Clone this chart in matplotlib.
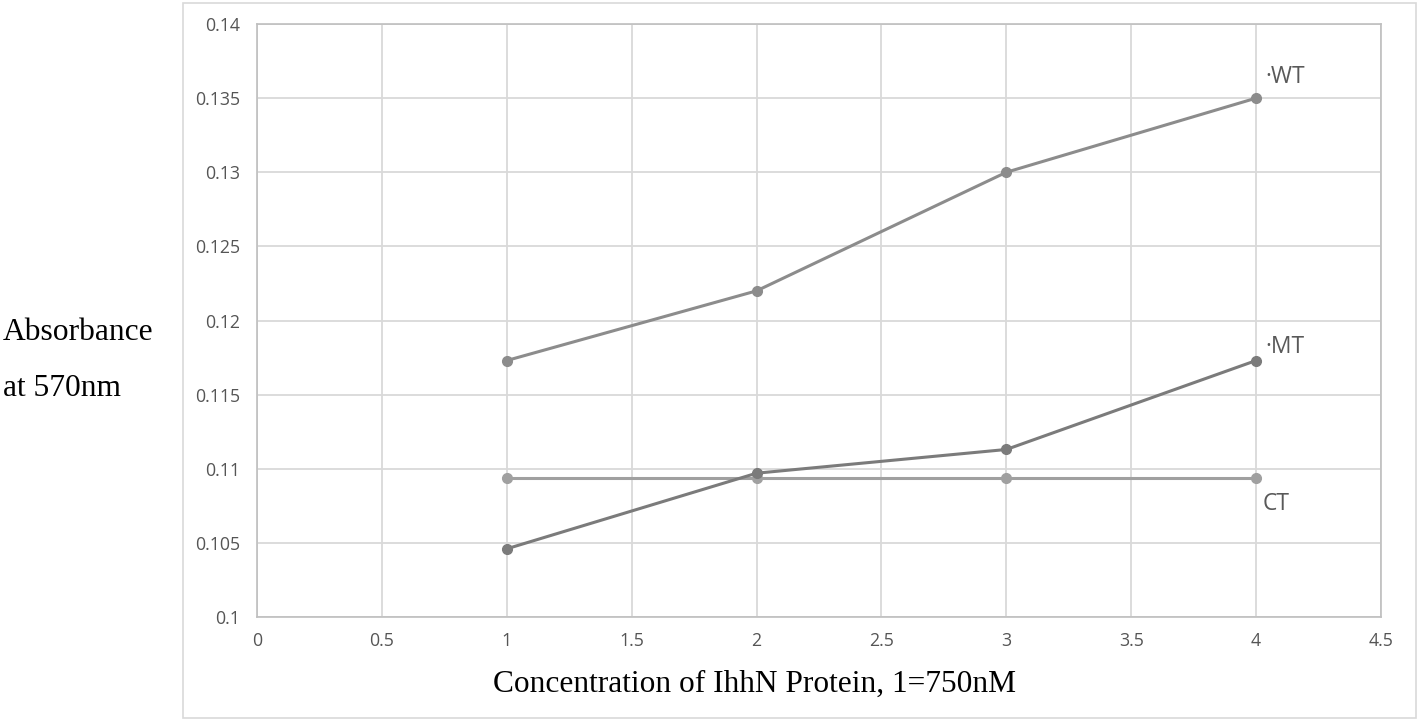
import matplotlib
matplotlib.use("Agg")
import matplotlib.pyplot as plt
from matplotlib.patches import Rectangle

x = [1, 2, 3, 4]
wt = [0.1173, 0.1220, 0.1300, 0.1350]
mt = [0.1046, 0.1097, 0.1113, 0.1173]
ct = [0.1094, 0.1094, 0.1094, 0.1094]
series_labels = ["·WT", "·MT", "CT"]
xticks = [0, 0.5, 1, 1.5, 2, 2.5, 3, 3.5, 4, 4.5]
yticks = [0.1, 0.105, 0.11, 0.115, 0.12, 0.125, 0.13, 0.135, 0.14]

W, H = 1418, 721
fig = plt.figure(figsize=(W / 100, H / 100), dpi=100)
fig.patch.set_facecolor("white")

# outer frame
fig.patches.append(Rectangle((183 / W, 1 - 718 / H), (1416 - 183) / W, (718 - 3) / H,
                             transform=fig.transFigure, fill=False,
                             edgecolor="#d9d9d9", linewidth=1.2))

ax = fig.add_axes([257 / W, 1 - 617 / H, (1381 - 257) / W, (617 - 24) / H])
ax.set_xlim(0, 4.5)
ax.set_ylim(0.1, 0.14)
ax.set_xticks(xticks)
ax.set_yticks(yticks)
ax.set_xticklabels(["0", "0.5", "1", "1.5", "2", "2.5", "3", "3.5", "4", "4.5"])
ax.set_yticklabels(["0.1", "0.105", "0.11", "0.115", "0.12", "0.125", "0.13", "0.135", "0.14"])
ax.grid(True, color="#d9d9d9", linewidth=1.3)
ax.set_axisbelow(True)
for s in ax.spines.values():
    s.set_color("#bfbfbf")
    s.set_linewidth(1.2)
ax.tick_params(length=0, labelsize=12.8, labelcolor="#555555")
ax.tick_params(axis="y", pad=12)
ax.tick_params(axis="x", pad=10.5)
for lab in ax.get_xticklabels() + ax.get_yticklabels():
    lab.set_fontfamily("Open Sans")

ax.plot(x, ct, color="#a0a0a0", linewidth=2.2, marker="o", markersize=7, zorder=3)
ax.plot(x, mt, color="#7b7b7b", linewidth=2.2, marker="o", markersize=7, zorder=4)
ax.plot(x, wt, color="#8c8c8c", linewidth=2.2, marker="o", markersize=7, zorder=4)

ax.annotate(series_labels[0], (x[-1], wt[-1]), xytext=(6.5, 15), textcoords="offset points",
            fontsize=16.5, color="#595959", family="Open Sans", va="center", ha="left")
ax.annotate(series_labels[1], (x[-1], mt[-1]), xytext=(6.5, 10), textcoords="offset points",
            fontsize=16.5, color="#595959", family="Open Sans", va="center", ha="left")
ax.annotate(series_labels[2], (x[-1], ct[-1]), xytext=(5, -19), textcoords="offset points",
            fontsize=16.5, color="#595959", family="Open Sans", va="center", ha="left")

fig.text(3 / W, 1 - 333 / H, "Absorbance", fontsize=22.7, family="Liberation Serif",
         va="center", ha="left", color="black")
fig.text(3 / W, 1 - 389 / H, "at 570nm", fontsize=22.7, family="Liberation Serif",
         va="center", ha="left", color="black")
fig.text(755 / W, 1 - 684 / H, "Concentration of IhhN Protein, 1=750nM", fontsize=22.6,
         family="Liberation Serif", va="center", ha="center", color="black")

fig.savefig("out.png", dpi=100)
